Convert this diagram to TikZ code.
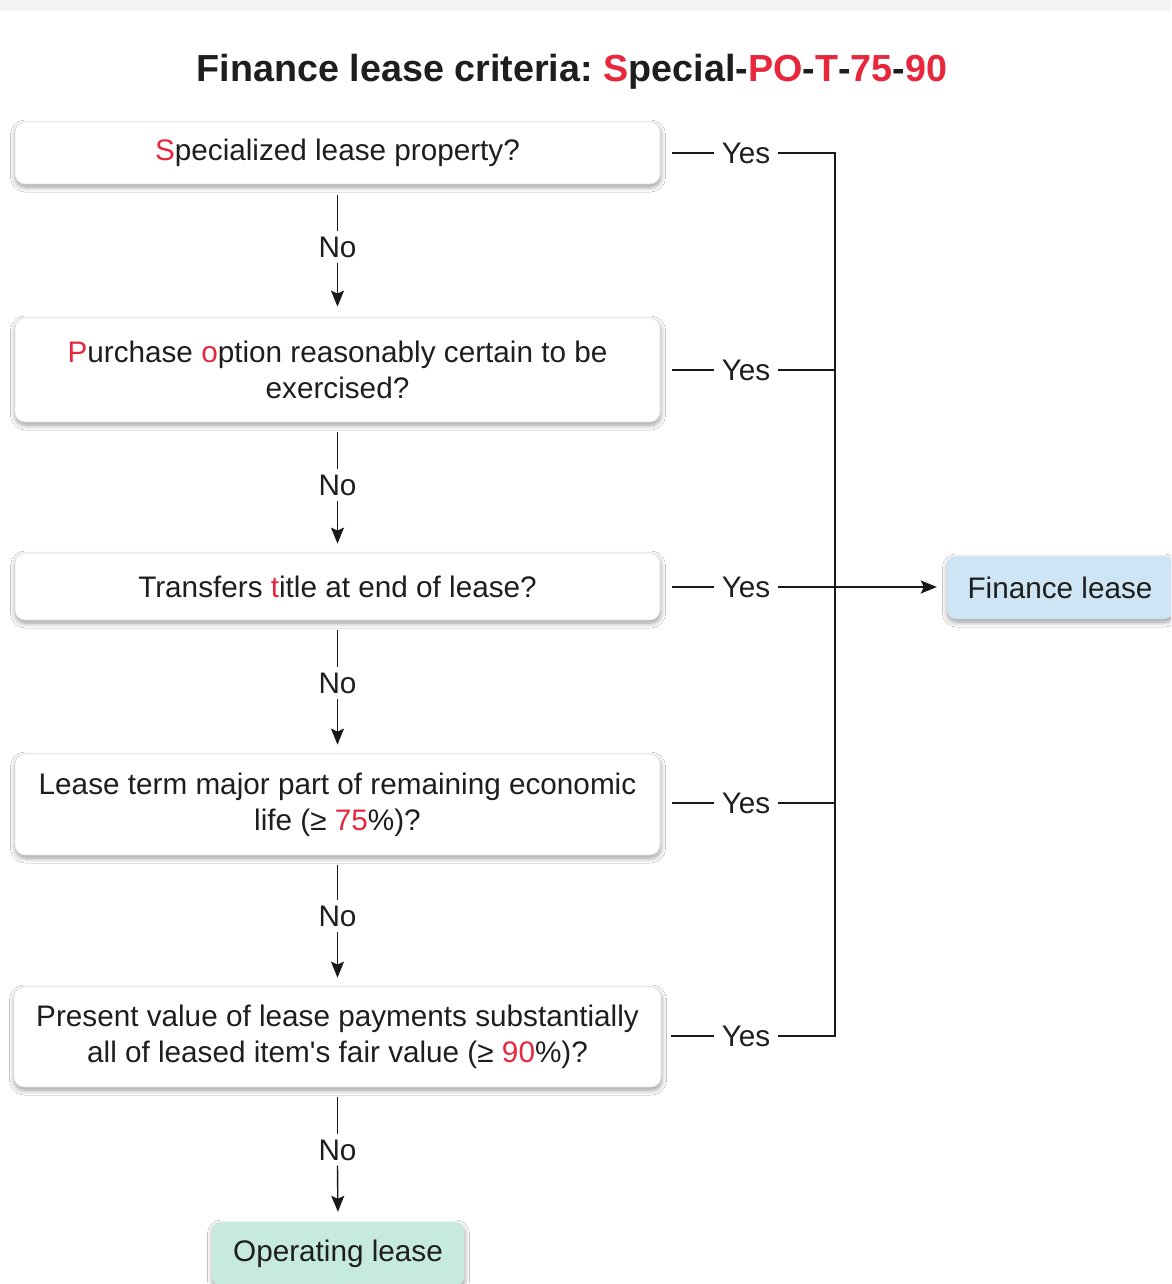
\documentclass[tikz,border=0pt]{standalone}
\usepackage{fontspec}
\newfontfamily\lib{Liberation Sans}
\usetikzlibrary{arrows.meta,shadows.blur}
\definecolor{redc}{RGB}{232,38,60}
\definecolor{txt}{RGB}{30,30,30}
\definecolor{finc}{RGB}{205,229,244}
\definecolor{opc}{RGB}{198,234,222}
\definecolor{bordc}{RGB}{226,226,226}
\definecolor{bandc}{RGB}{241,243,245}
\definecolor{linec}{RGB}{25,25,25}
\newcommand{\rd}[1]{\textcolor{redc}{#1}}
\frenchspacing
\begin{document}
\begin{tikzpicture}[x=1pt,y=-1pt,
  base/.style={font=\lib\fontsize{29.7}{36}\selectfont, text=txt},
  softshadow/.style={blur shadow={shadow xshift=0.5pt, shadow yshift=-3pt, shadow blur steps=8, shadow blur radius=5pt, shadow opacity=40}},
  qbox/.style={base, draw=bordc, line width=0.8pt, fill=white, rounded corners=10pt,
    minimum width=645pt, align=center, inner sep=0pt, softshadow},
  endbox/.style={base, rounded corners=9pt, inner sep=0pt, minimum height=63pt, softshadow},
  lbl/.style={base, inner xsep=8pt, inner ysep=5pt},
  conn/.style={draw=linec, line width=1.4pt},
  arr/.style={conn, -{Stealth[length=16pt,width=13pt,inset=3pt]}},
]
\clip (0,0) rectangle (1171,1284);
\fill[white] (0,0) rectangle (1171,1284);
\fill[bandc] (0,0) rectangle (1171,11);

\node[base, font=\lib\bfseries\fontsize{37.7}{44}\selectfont, anchor=base] (title) at (572,81.5)
  {Finance lease criteria: \rd{S}pecial-\rd{PO}-\rd{T}-\rd{75}-\rd{90}};

\node[qbox, minimum height=62pt] (q1) at (337.5,153) {\rd{S}pecialized lease property?};
\node[qbox, minimum height=104pt] (q2) at (337.5,370) {\rd{P}urchase \rd{o}ption reasonably certain to be\\exercised?};
\node[qbox, minimum height=67pt] (q3) at (337.5,586.5) {Transfers \rd{t}itle at end of lease?};
\node[qbox, minimum height=101pt] (q4) at (337.5,804.5) {Lease term major part of remaining economic\\life (≥ \rd{75}\%)?};
\node[qbox, minimum height=100pt, minimum width=647pt] (q5) at (337.5,1037) {Present value of lease payments substantially\\all of leased item's fair value (≥ \rd{90}\%)?};

\node[endbox, fill=finc, minimum width=226pt] (fin) at (1060,587.5) {Finance lease};
\node[endbox, fill=opc, minimum width=252pt, minimum height=64pt] (op) at (338,1254) {Operating lease};

% No labels
\node[lbl] (n1) at (337.5,247) {No};
\node[lbl] (n2) at (337.5,485) {No};
\node[lbl] (n3) at (337.5,683) {No};
\node[lbl] (n4) at (337.5,916) {No};
\node[lbl] (n5) at (337.5,1150) {No};

\draw[conn, shorten <=11pt] (q1.south) -- (n1.north);
\draw[arr, shorten >=11pt] (n1.south) -- (q2.north);
\draw[conn, shorten <=10pt] (q2.south) -- (n2.north);
\draw[arr, shorten >=9pt] (n2.south) -- (q3.north);
\draw[conn, shorten <=10pt] (q3.south) -- (n3.north);
\draw[arr, shorten >=9pt] (n3.south) -- (q4.north);
\draw[conn, shorten <=10pt] (q4.south) -- (n4.north);
\draw[arr, shorten >=9pt] (n4.south) -- (q5.north);
\draw[conn, shorten <=10pt] (q5.south) -- (n5.north);
\draw[arr, shorten >=10pt] (n5.south) -- (op.north);

% Yes labels
\node[lbl] (y1) at (746,153) {Yes};
\node[lbl] (y2) at (746,370) {Yes};
\node[lbl] (y3) at (746,587) {Yes};
\node[lbl] (y4) at (746,803) {Yes};
\node[lbl] (y5) at (746,1036) {Yes};

\coordinate (j1) at (835,153);
\coordinate (j2) at (835,370);
\coordinate (j4) at (835,803);
\coordinate (j5) at (835,1036);

\draw[conn, shorten <=12pt] (q1.east |- y1) -- (y1.west);
\draw[conn, shorten <=12pt] (q2.east |- y2) -- (y2.west);
\draw[conn, shorten <=12pt] (q3.east |- y3) -- (y3.west);
\draw[conn, shorten <=12pt] (q4.east |- y4) -- (y4.west);
\draw[conn, shorten <=10pt] (q5.east |- y5) -- (y5.west);

\draw[conn] (y1.east) -- (j1) -- (j5) -- (y5.east);
\draw[conn] (y2.east) -- (j2);
\draw[conn] (y4.east) -- (j4);
\draw[arr, shorten >=10pt] (y3.east) -- (fin.west |- y3);
\end{tikzpicture}
\end{document}
